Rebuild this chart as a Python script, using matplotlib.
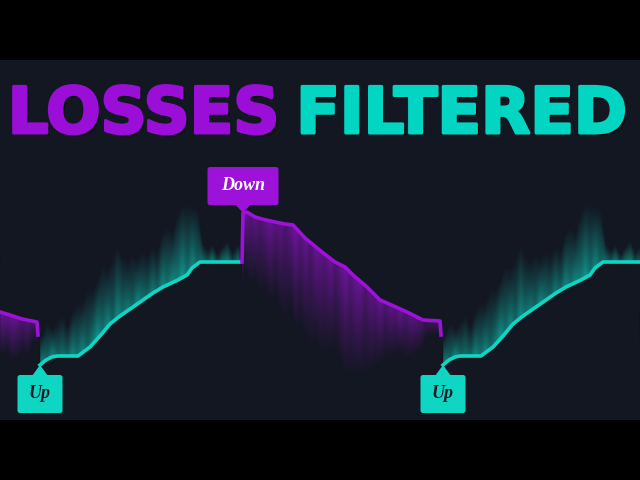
import numpy as np
import matplotlib
matplotlib.use("Agg")
import matplotlib.pyplot as plt
from matplotlib.patches import FancyBboxPatch, Polygon
import matplotlib.patheffects as pe

# ---------------------------------------------------------------- data
# equity curve, split into "up" (kept) and "down" (filtered) legs
down1_x = [0, 10, 22, 37, 38]
down1_v = [108, 105, 101, 98, 85]

up1_x = [40, 46, 52, 57, 78, 90, 100, 110, 120, 133, 153, 163, 178, 187, 192, 200, 240]
up1_v = [55, 60, 63, 64, 64, 73, 84, 96, 104, 113, 127, 133, 140, 145, 152, 158, 158]

down2_x = [242, 243, 247, 255, 262, 275, 285, 293, 305, 322, 335, 345, 353, 367, 380,
           387, 407, 423, 440, 441]
down2_v = [158, 207, 208, 203, 201, 198, 196, 195, 182, 168, 158, 153, 145, 133, 120,
           117, 108, 100, 99, 85]

up2_x = [443, 449, 455, 460, 481, 493, 503, 513, 523, 536, 556, 566, 581, 590, 595, 603, 640]
up2_v = [55, 60, 63, 64, 64, 73, 84, 96, 104, 113, 127, 133, 140, 145, 152, 158, 158]

# glow streaks: centre of each streak, its reach away from the line, its strength
down1_glow_x = [2, 7, 12, 17, 22, 27, 32, 36]
down1_glow_h = [45, 40, 48, 42, 35, 38, 25, 20]
down1_glow_a = [0.9, 0.8, 0.9, 0.8, 0.6, 0.7, 0.5, 0.6]

up1_glow_x = list(range(42, 240, 5))
up1_glow_h = [30, 38, 28, 35, 42, 30, 45, 55, 50, 62, 55, 60, 70, 58, 65, 75, 60, 50, 55, 45,
              50, 42, 48, 40, 55, 60, 50, 68, 75, 72, 62, 58, 20, 12, 18, 8, 16, 22, 10, 18]
up1_glow_a = [0.8, 0.6, 0.9, 0.6, 0.7, 0.6, 0.9, 0.7, 0.9, 0.6, 0.8, 1.0, 0.7, 0.9, 0.6, 0.9,
              0.7, 0.8, 0.6, 0.9, 0.7, 0.6, 0.8, 0.6, 0.9, 0.7, 0.9, 0.8, 1.0, 0.7, 0.9, 0.6,
              0.7, 0.5, 0.8, 0.4, 0.7, 0.8, 0.4, 0.7]

down2_glow_x = list(range(245, 441, 5))
down2_glow_h = [60, 75, 65, 80, 70, 85, 75, 90, 100, 85, 105, 95, 100, 110, 95, 105, 100, 95,
                90, 100, 110, 105, 100, 95, 90, 85, 75, 65, 60, 55, 50, 45, 50, 45, 40, 35,
                20, 15, 18, 10]
down2_glow_a = [0.9, 0.7, 0.8, 0.6, 0.8, 0.9, 0.7, 0.8, 0.6, 0.8, 1.0, 0.7, 0.9, 0.6, 0.9,
                0.8, 0.7, 0.9, 0.6, 0.8, 1.0, 0.7, 0.9, 0.9, 0.6, 0.8, 0.7, 0.9, 0.6, 0.8,
                0.7, 0.9, 0.6, 0.8, 0.7, 0.6, 0.4, 0.5, 0.4, 0.7]

up2_glow_x = list(range(445, 641, 5))
up2_glow_h = [30, 38, 28, 35, 42, 30, 45, 55, 50, 62, 55, 60, 70, 58, 65, 75, 60, 50, 55, 45,
              50, 42, 48, 40, 55, 60, 50, 68, 75, 72, 62, 58, 20, 12, 18, 8, 16, 22, 10, 18]
up2_glow_a = [0.8, 0.6, 0.9, 0.6, 0.7, 0.6, 0.9, 0.7, 0.9, 0.6, 0.8, 1.0, 0.7, 0.9, 0.6, 0.9,
              0.7, 0.8, 0.6, 0.9, 0.7, 0.6, 0.8, 0.6, 0.9, 0.7, 0.9, 0.8, 1.0, 0.7, 0.9, 0.6,
              0.7, 0.5, 0.8, 0.4, 0.7, 0.8, 0.4, 0.7]

TEAL = "#0fd6c2"
PURPLE = "#9c12d8"
BG = "#131722"

# ---------------------------------------------------------------- figure
fig = plt.figure(figsize=(6.4, 4.8), dpi=100, facecolor="black")
ax = fig.add_axes([0, 60 / 480, 1, 360 / 480])
ax.set_facecolor(BG)
ax.set_xlim(0, 640)
ax.set_ylim(0, 360)
ax.set_xticks([])
ax.set_yticks([])
for s in ax.spines.values():
    s.set_visible(False)

# glow image
W, H = 640, 360
cols = np.arange(W) + 0.5
rows = np.arange(H) + 0.5
img = np.zeros((H, W, 4))


def smooth(a, n):
    return np.convolve(np.pad(a, n // 2, mode="edge"), np.ones(n) / n, mode="valid")


def add_glow(seg_x, seg_v, gx, gh, ga, color, direction, a0):
    gx = np.asarray(gx, float)
    line = np.interp(cols, seg_x, seg_v)
    inside = (cols >= seg_x[0]) & (cols <= seg_x[-1])
    nearest = np.abs(cols[:, None] - gx[None, :]).argmin(axis=1)
    size = smooth(np.asarray(gh, float)[nearest], 5)
    strength = smooth(np.asarray(ga, float)[nearest], 5)
    d = direction * (rows[:, None] - line[None, :])
    a = a0 * strength[None, :] * np.clip(1 - d / np.maximum(size, 1), 0, 1) ** 1.15
    a = a * (d >= -1) * inside[None, :]
    rgb = matplotlib.colors.to_rgb(color)
    upd = a > img[:, :, 3]
    for c in range(3):
        img[:, :, c] = np.where(upd, rgb[c], img[:, :, c])
    img[:, :, 3] = np.maximum(img[:, :, 3], a)


add_glow(down1_x, down1_v, down1_glow_x, down1_glow_h, down1_glow_a, PURPLE, -1, 0.7)
add_glow(up1_x, up1_v, up1_glow_x, up1_glow_h, up1_glow_a, TEAL, 1, 0.68)
add_glow(down2_x, down2_v, down2_glow_x, down2_glow_h, down2_glow_a, PURPLE, -1, 0.7)
add_glow(up2_x, up2_v, up2_glow_x, up2_glow_h, up2_glow_a, TEAL, 1, 0.68)

# soften the streak edges a little
alpha = img[:, :, 3]
img[:, :, 3] = (np.roll(alpha, 1, axis=1) + 2 * alpha + np.roll(alpha, -1, axis=1)) / 4

ax.imshow(img, extent=(0, 640, 0, 360), origin="lower", aspect="auto",
          interpolation="bilinear", zorder=1)

for xs, vs, c in [(down1_x, down1_v, PURPLE), (up1_x, up1_v, TEAL),
                  (down2_x, down2_v, PURPLE), (up2_x, up2_v, TEAL)]:
    ax.plot(xs, vs, color=c, lw=2.6, solid_joinstyle="round", zorder=3)


# ---------------------------------------------------------------- signal labels
def label(x, v, text, color, tcolor, below, w):
    h = 38
    if below:
        top = v - 10
        y0 = top - h
        tri = [(x - 8, top - 1), (x + 8, top - 1), (x, v)]
    else:
        y0 = v + 8
        tri = [(x - 8, y0 + 1), (x + 8, y0 + 1), (x, v)]
    ax.add_patch(FancyBboxPatch((x - w / 2, y0), w, h,
                                boxstyle="round,pad=0,rounding_size=2.5",
                                fc=color, ec="none", zorder=4))
    ax.add_patch(Polygon(tri, closed=True, fc=color, ec="none", zorder=4))
    ax.text(x, y0 + h / 2, text, color=tcolor, ha="center", va="center", fontsize=13,
            family="Liberation Serif", style="italic", weight="bold", zorder=5)


label(up1_x[0], up1_v[0], "Up", TEAL, "#131722", True, 45)
label(down2_x[1], down2_v[1], "Down", PURPLE, "white", False, 71)
label(up2_x[0], up2_v[0], "Up", TEAL, "#131722", True, 45)

# ---------------------------------------------------------------- title
def title_fx(color):
    return [pe.withSimplePatchShadow(offset=(2, -2), shadow_rgbFace="black", alpha=0.5),
            pe.Stroke(linewidth=2.2, foreground=color), pe.Normal()]


base = (480 - 133) / 480
fig.text(143.5 / 640, base, "LOSSES", color="#9a0ed8", ha="center", va="baseline",
         fontsize=46, family="DejaVu Sans", weight="bold", path_effects=title_fx("#9a0ed8"))
fig.text(461.5 / 640, base, "FILTERED", color="#02d6c3", ha="center", va="baseline",
         fontsize=46, family="DejaVu Sans", weight="bold", path_effects=title_fx("#02d6c3"))

fig.savefig("out.png", dpi=100, facecolor="black")
